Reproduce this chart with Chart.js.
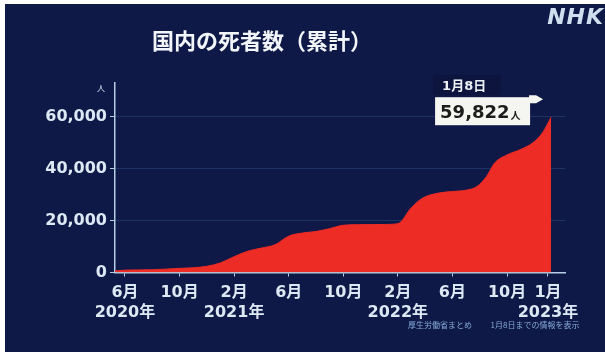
<!DOCTYPE html>
<html lang="ja">
<head>
<meta charset="utf-8">
<title>国内の死者数（累計）</title>
<script src="https://cdn.jsdelivr.net/npm/chart.js@4/dist/chart.umd.min.js"></script>
<style>
  html, body { margin: 0; padding: 0; background: #ffffff; }
  #wrap { width: 605px; height: 354px; }
</style>
</head>
<body>
<div id="wrap"><canvas id="c" width="605" height="354"></canvas></div>
<script>
// Months counted from January 2020 (5 = June 2020, 36 = January 2023)
const months = [4.27, 5, 6, 7, 8, 9, 10, 11, 12, 13, 14, 15, 16, 17, 18, 19, 20, 21, 22, 23, 24, 25,
                26, 26.8, 28, 29, 30, 30.8, 31.5, 32.1, 33, 34, 34.9, 35.6, 36.23];
// Cumulative deaths in Japan
const deaths = [600, 900, 980, 1050, 1300, 1600, 1800, 2400, 3700, 6100, 8200, 9400, 10700, 14000,
                15200, 15800, 16900, 18200, 18400, 18450, 18500, 18800,
                25000, 28600, 30600, 31200, 31700, 33100, 37000, 42200, 45300, 47400, 50000, 53800, 59822];

const tickMonths = [5, 9, 13, 17, 21, 25, 29, 33, 36];
const tickLabels = [["6月", "2020年"], ["10月"], ["2月", "2021年"], ["6月"], ["10月"],
                    ["2月", "2022年"], ["6月"], ["10月"], ["1月", "2023年"]];
const yTicks = [0, 20000, 40000, 60000];

const latestDate = "1月8日";
const latestValue = deaths[deaths.length - 1];
const titleText = "国内の死者数（累計）";
const sourceNote = "厚生労働省まとめ";
const periodNote = "1月8日までの情報を表示";

const NAVY = "#0f1947";
const RED = "#ee2c26";
const TEXT = "#dce8f4";
const AXIS = "#b6cfe6";
const NUM_FONT = '"DejaVu Sans", "Noto Sans CJK JP", sans-serif';
const JP_FONT = '"Noto Sans CJK JP", "DejaVu Sans", sans-serif';

const points = months.map((m, i) => ({ x: m, y: deaths[i] }));

const decor = {
  id: 'decor',
  beforeDraw(chart) {
    const ctx = chart.ctx;
    ctx.save();
    ctx.fillStyle = "#ffffff";
    ctx.fillRect(0, 0, chart.width, chart.height);
    ctx.fillStyle = NAVY;
    ctx.fillRect(5, 4, chart.width - 5, chart.height - 6);
    ctx.restore();
  },
  afterDraw(chart) {
    const ctx = chart.ctx;
    const xs = chart.scales.x, ys = chart.scales.y;
    ctx.save();

    // title
    ctx.fillStyle = "#f2f5f9";
    ctx.font = 'bold 22px ' + JP_FONT;
    ctx.textAlign = 'center';
    ctx.textBaseline = 'middle';
    ctx.fillText(titleText, 262, 41);

    // broadcaster mark
    ctx.font = 'italic bold 22px "DejaVu Sans", sans-serif';
    ctx.textAlign = 'right';
    ctx.fillStyle = "#cfdff0";
    if ('letterSpacing' in ctx) ctx.letterSpacing = '1px';
    ctx.fillText("NHK", 604, 18);
    if ('letterSpacing' in ctx) ctx.letterSpacing = '0px';

    // unit over the value axis
    ctx.font = '8px ' + JP_FONT;
    ctx.textAlign = 'center';
    ctx.fillStyle = TEXT;
    ctx.fillText("人", 101, 88);

    // latest value callout, anchored to the last point
    const px = xs.getPixelForValue(months[months.length - 1]);
    const py = ys.getPixelForValue(latestValue);
    const boxR = px - 21, boxL = boxR - 95, boxT = py - 20, boxH = 28;

    ctx.fillStyle = "rgba(5,8,25,0.18)";
    ctx.fillRect(boxL - 2, boxT - 22, 68, 20);
    ctx.fillStyle = "#eef2f6";
    ctx.font = 'bold 13px ' + NUM_FONT;
    ctx.textAlign = 'left';
    ctx.fillText(latestDate, boxL + 7, boxT - 11);

    ctx.fillStyle = "#f5f5f1";
    ctx.fillRect(boxL, boxT, 95, boxH);
    ctx.beginPath();
    ctx.moveTo(boxR - 1, boxT - 2);
    ctx.lineTo(boxR + 6, boxT - 2);
    ctx.lineTo(boxR + 13, boxT + 2);
    ctx.lineTo(boxR + 6, boxT + 6);
    ctx.lineTo(boxR - 1, boxT + 6);
    ctx.closePath();
    ctx.fill();

    ctx.fillStyle = "#1c1c1c";
    ctx.font = 'bold 18px ' + NUM_FONT;
    ctx.textBaseline = 'alphabetic';
    const valText = latestValue.toLocaleString('en-US');
    ctx.fillText(valText, boxL + 5, boxT + 21);
    const w = ctx.measureText(valText).width;
    ctx.font = 'bold 10px ' + JP_FONT;
    ctx.fillText("人", boxL + 6 + w, boxT + 22);

    // footnotes
    ctx.fillStyle = "#86abd9";
    ctx.font = '8px ' + JP_FONT;
    ctx.textAlign = 'center';
    ctx.textBaseline = 'middle';
    ctx.fillText(sourceNote, 440, 325);
    ctx.fillText(periodNote, 535, 325);

    ctx.restore();
  }
};

new Chart(document.getElementById('c'), {
  type: 'line',
  data: {
    datasets: [{
      data: points,
      borderColor: RED,
      backgroundColor: RED,
      borderWidth: 1,
      fill: 'origin',
      pointRadius: 0,
      cubicInterpolationMode: 'monotone'
    }]
  },
  options: {
    responsive: false,
    animation: false,
    devicePixelRatio: 1,
    layout: { padding: { left: 0, top: 83, right: 40, bottom: 0 } },
    plugins: { legend: { display: false }, tooltip: { enabled: false }, title: { display: false } },
    scales: {
      x: {
        type: 'linear',
        min: 4.27,
        max: 37.25,
        afterBuildTicks: s => { s.ticks = tickMonths.map(v => ({ value: v })); },
        afterFit: s => { s.height = 81.5; },
        ticks: {
          autoSkip: false,
          maxRotation: 0,
          padding: 6,
          color: TEXT,
          font: { family: NUM_FONT, size: 16, weight: 'bold', lineHeight: 1.25 },
          callback: (v, i) => tickLabels[i]
        },
        grid: { drawOnChartArea: false, tickLength: 4, tickColor: AXIS },
        border: { color: AXIS, width: 1.5 }
      },
      y: {
        min: 0,
        max: 73000,
        afterBuildTicks: s => { s.ticks = yTicks.map(v => ({ value: v })); },
        afterFit: s => { s.width = 115; },
        ticks: {
          padding: 3,
          color: TEXT,
          font: { family: NUM_FONT, size: 16, weight: 'bold' },
          callback: v => v.toLocaleString('en-US')
        },
        grid: { color: 'rgba(70,110,170,0.3)', lineWidth: 1, tickLength: 5, tickColor: AXIS },
        border: { color: AXIS, width: 1.5 }
      }
    }
  },
  plugins: [decor]
});
</script>
</body>
</html>
